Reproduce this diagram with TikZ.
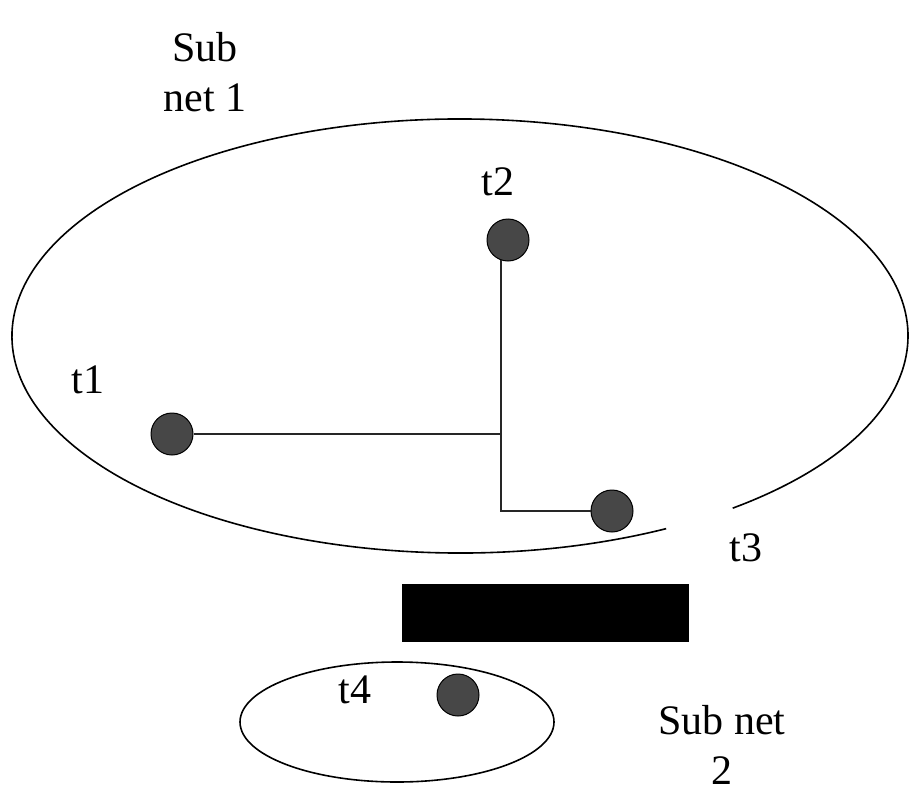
\documentclass[tikz,border=0pt]{standalone}
\usepackage{fontspec}
\setmainfont{Liberation Serif}
\usetikzlibrary{positioning}

\begin{document}
\begin{tikzpicture}[
    x=1pt, y=-1pt,
    font=\fontsize{42}{50}\selectfont,
    line width=1.6pt,
    token/.style={
        circle,
        draw=black,
        fill=black!72,
        line width=1pt,
        minimum size=42pt,
        inner sep=0pt
    },
    tlabel/.style={
        inner sep=0pt,
        align=center
    },
    link/.style={
        line width=1.8pt,
        draw=black!85
    }
]
\useasboundingbox (0,0) rectangle (909,797);

% Sub nets
\draw (460,336) ++(62.6:448 and 217) arc[start angle=62.6, end angle=412.5, x radius=448, y radius=217];
\draw (397,722) ellipse[x radius=157, y radius=60];

% Separator
\node[draw, fill=black, minimum width=285pt, minimum height=56pt, inner sep=0pt] (bar) at (545.5,613) {};

% Tokens
\node[token] (t1) at (172,434) {};
\node[token] (t2) at (508,240) {};
\node[token] (t3) at (612,511) {};
\node[token] (t4) at (458,695) {};

% Labels
\node[tlabel] (lsub1) at (205,72) {Sub\\net 1};
\node[tlabel] (lt1) at (88,380) {t1};
\node[tlabel] (lt2) at (498,182) {t2};
\node[tlabel] (lt3) at (746,548) {t3};
\node[tlabel] (lt4) at (355,690) {t4};
\node[tlabel] (lsub2) at (722,745) {Sub net\\2};

% Connections
\draw[link] (t2.250) |- (t3);
\draw[link] (t1) -- (t1 -| t2.250);

\end{tikzpicture}
\end{document}
